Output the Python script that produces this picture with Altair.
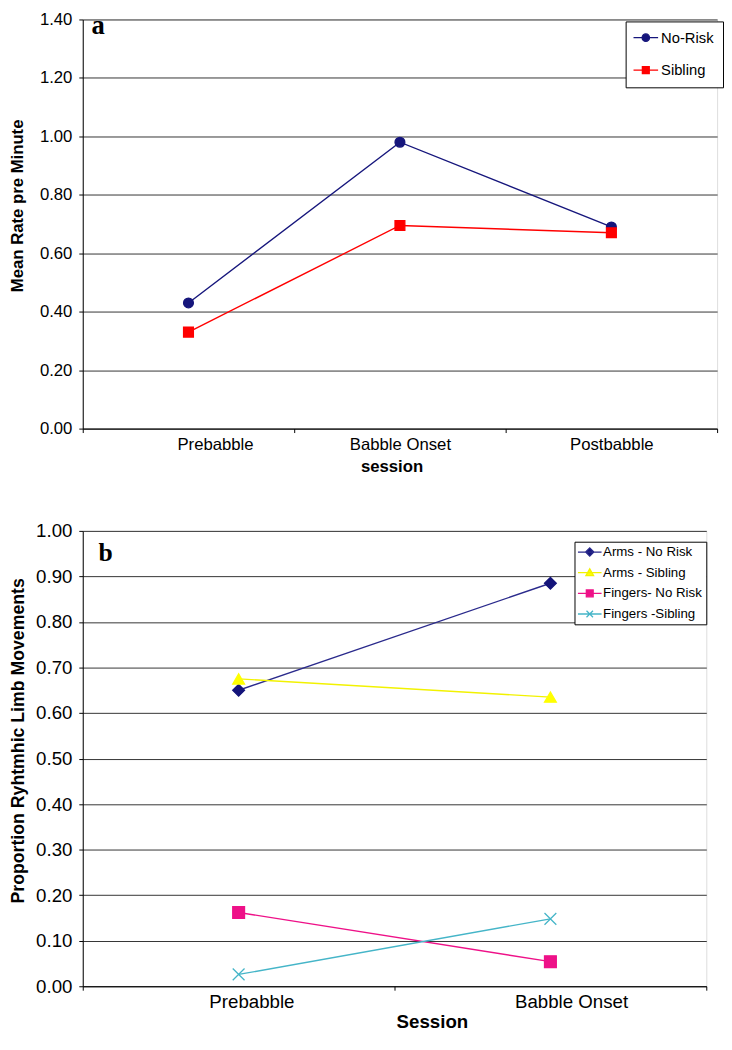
import altair as alt
import pandas as pd

# ---------------- data ----------------
sessions_a = ["Prebabble", "Babble Onset", "Postbabble"]
series_a = ["No-Risk", "Sibling"]
no_risk = [0.43, 0.98, 0.69]
sibling = [0.33, 0.695, 0.67]
ticks_a = [0.0, 0.2, 0.4, 0.6, 0.8, 1.0, 1.2, 1.4]

sessions_b = ["Prebabble", "Babble Onset"]
series_b = ["Arms - No Risk", "Arms - Sibling", "Fingers- No Risk", "Fingers -Sibling"]
arms_no_risk = [0.65, 0.885]
arms_sibling = [0.675, 0.635]
fingers_no_risk = [0.162, 0.054]
fingers_sibling = [0.026, 0.148]
ticks_b = [0.0, 0.1, 0.2, 0.3, 0.4, 0.5, 0.6, 0.7, 0.8, 0.9, 1.0]

FONT = "Liberation Sans"

df_a = pd.DataFrame({
    "session": sessions_a * 2,
    "series": [series_a[0]] * 3 + [series_a[1]] * 3,
    "value": no_risk + sibling,
})
df_b = pd.DataFrame({
    "session": sessions_b * 4,
    "series": sum([[s] * 2 for s in series_b], []),
    "value": arms_no_risk + arms_sibling + fingers_no_risk + fingers_sibling,
})

colors_a = ["#16167c", "#ff0000"]
shapes_a = ["circle", "square"]
legend_shapes_a = [
    "M-2,0H2M0.6,0A0.6 0.6 0 1 1 -0.6,0A0.6 0.6 0 1 1 0.6,0Z",
    "M-2,0H2M-0.56,-0.56H0.56V0.56H-0.56Z",
]
colors_b = ["#14147a", "#ffff00", "#ee1188", "#45b5c8"]
line_colors_b = ["#2a2a8c", "#f2f200", "#ee1188", "#45b5c8"]
shapes_b = ["diamond", "triangle-up", "square", "M-1,-1L1,1M-1,1L1,-1"]
legend_shapes_b = [
    "M-2,0H2M0,-0.7L0.7,0L0,0.7L-0.7,0Z",
    "M-2,0H2M0,-0.65L0.65,0.5L-0.65,0.5Z",
    "M-2,0H2M-0.58,-0.58H0.58V0.58H-0.58Z",
    "M-2,0H2M-0.55,-0.55L0.55,0.55M-0.55,0.55L0.55,-0.55",
]


def make_panel(df, sessions, series, line_colors, marker_colors, shapes, legend_shapes,
               ticks, ymax, width, height, letter, letter_x, letter_y, letter_size,
               ytitle, xtitle, label_size, ytitle_size, xtitle_size, y_ext, y_tpad,
               x_lpad, x_tpad, title_y, title_x, label_offset_cond, point_size,
               leg_x, leg_y, leg_pad, leg_rowpad, leg_font, leg_symsize,
               leg_symoff, leg_laboff):
    x = alt.X(
        "session:N", sort=sessions,
        scale=alt.Scale(type="band", paddingInner=0, paddingOuter=0),
        axis=alt.Axis(
            title=xtitle, tickBand="extent", grid=False, labelAngle=0,
            labelFont=FONT, labelFontSize=label_size, labelColor="black",
            labelPadding=x_lpad, tickSize=4, tickColor="black", domainColor="black",
            titleFont=FONT, titleFontSize=xtitle_size, titleFontWeight="bold",
            titleColor="black", titlePadding=x_tpad, titleX=title_x,
            labelOffset=label_offset_cond,
        ),
    )
    y = alt.Y(
        "value:Q",
        scale=alt.Scale(domain=[0, ymax], nice=False, zero=True),
        axis=alt.Axis(
            values=ticks, format=".2f", title=ytitle, grid=True,
            gridColor="#333333", gridWidth=1, gridOpacity=1,
            labelFont=FONT, labelFontSize=label_size, labelColor="black",
            labelPadding=7, tickSize=4, tickColor="black", domainColor="black",
            minExtent=y_ext, maxExtent=y_ext,
            titleFont=FONT, titleFontSize=ytitle_size, titleFontWeight="bold",
            titleColor="black", titlePadding=y_tpad, titleY=title_y,
        ),
    )
    base = alt.Chart(df)
    lines = base.mark_line(strokeWidth=1.4).encode(
        x=x, y=y, detail="series:N",
        color=alt.Color("series:N", scale=alt.Scale(domain=series, range=line_colors), legend=None),
    )
    points = base.mark_point(filled=True, opacity=1, size=point_size, strokeWidth=1.3).encode(
        x=x, y=y,
        fill=alt.Fill("series:N", scale=alt.Scale(domain=series, range=marker_colors), legend=None),
        stroke=alt.Stroke("series:N", scale=alt.Scale(domain=series, range=marker_colors), legend=None),
        shape=alt.Shape("series:N", scale=alt.Scale(domain=series, range=shapes), legend=None),
    )
    leg = alt.Legend(
        title=None, orient="none", legendX=leg_x, legendY=leg_y, direction="vertical",
        strokeColor="black", fillColor="white", padding=leg_pad, rowPadding=leg_rowpad,
        labelFont=FONT, labelFontSize=leg_font, labelColor="black", labelLimit=300,
        symbolSize=leg_symsize, symbolStrokeWidth=1.3, symbolOpacity=1,
        symbolOffset=leg_symoff, labelOffset=leg_laboff,
    )
    legend_layer = base.transform_filter("false").mark_point(filled=True, opacity=1).encode(
        x=x, y=y,
        fill=alt.Fill("series:N", scale=alt.Scale(domain=series, range=marker_colors), legend=leg),
        stroke=alt.Stroke("series:N", scale=alt.Scale(domain=series, range=line_colors), legend=leg),
        shape=alt.Shape("series:N", scale=alt.Scale(domain=series, range=legend_shapes), legend=leg),
    )
    letter_layer = alt.Chart(pd.DataFrame({"t": [letter]})).mark_text(
        font="Liberation Serif", fontSize=letter_size, fontWeight="bold",
        align="left", baseline="alphabetic", color="black",
    ).encode(text="t:N", x=alt.value(letter_x), y=alt.value(letter_y))

    return alt.layer(lines, points, legend_layer, letter_layer).resolve_scale(
        color="independent", fill="independent", stroke="independent", shape="independent"
    ).properties(width=width, height=height)


panel_a = make_panel(
    df_a, sessions_a, series_a, colors_a, colors_a, shapes_a, legend_shapes_a,
    ticks_a, 1.4, 645, 416, "a", 9, 15, 27,
    "Mean Rate pre Minute", "session", 17, 17, 17, 48, 9, 4, 7, 189, 314,
    {"condition": {"test": "datum.value === 'Prebabble'", "value": 27}, "value": 0},
    100,
    552, 2, 9, 17, 15, 156.25, 4, 8,
)

panel_b = make_panel(
    df_b, sessions_b, series_b, line_colors_b, colors_b, shapes_b, legend_shapes_b,
    ticks_b, 1.0, 634, 463, "b", 16, 31, 26,
    "Proportion Ryhtmhic  Limb  Movements", "Session", 19, 18, 19, 52, 4, 3, 1, 213, 355,
    {"condition": {"test": "datum.value === 'Prebabble'", "value": 13}, "value": 21},
    144,
    500, 11, 3.5, 7, 13.5, 144, 5, 6.5,
)

chart = alt.vconcat(
    panel_a, panel_b, spacing=46, bounds="full",
    padding={"left": 0, "top": -7, "right": 0, "bottom": 0},
).configure_view(stroke="black", strokeWidth=1).configure(background="white")

chart.save("out.html", embed_options={"renderer": "svg", "actions": False})
